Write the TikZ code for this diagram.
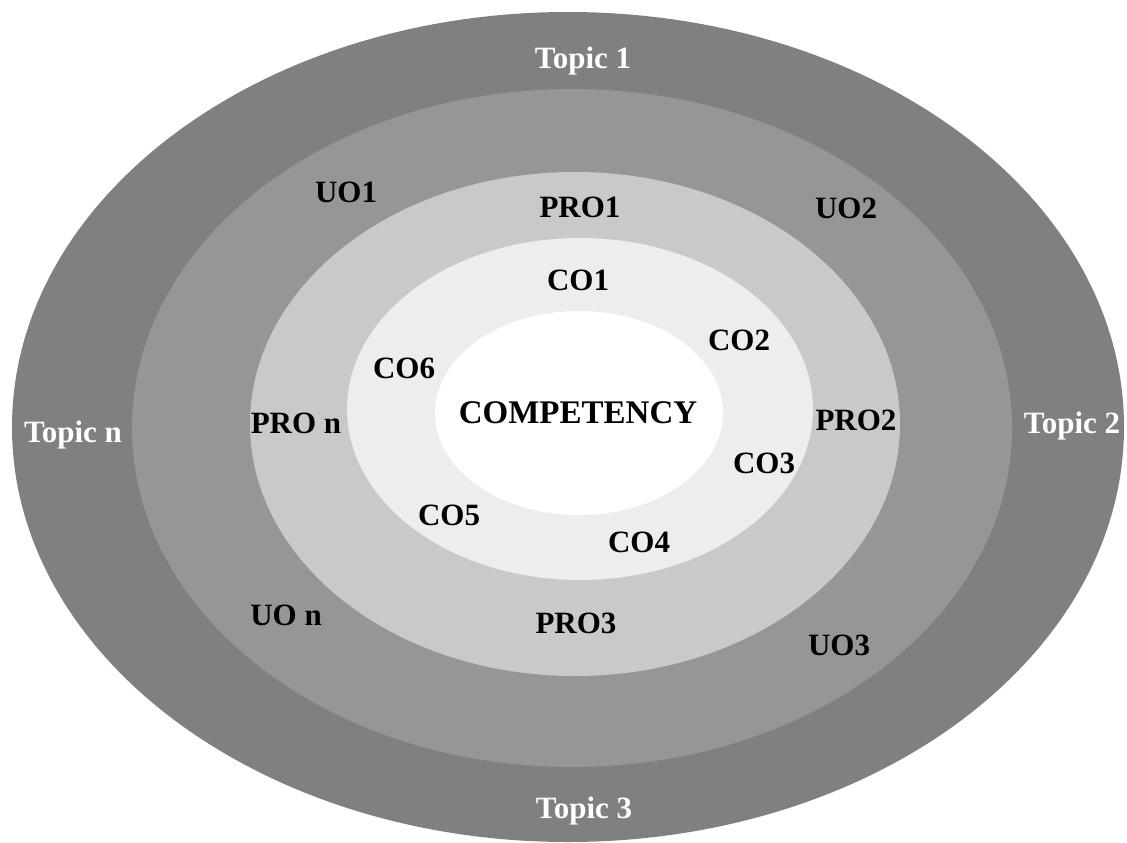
\documentclass[tikz,border=0pt]{standalone}
\usepackage{fontspec}
\setmainfont{Liberation Serif}
\begin{document}
\begin{tikzpicture}[x=1pt,y=-1pt,
  lbl/.style={anchor=base,inner sep=0pt,font=\bfseries\fontsize{31}{37}\selectfont,text=black},
  topic/.style={lbl,text=white},
  core/.style={lbl,font=\bfseries\fontsize{33}{39}\selectfont}]
\useasboundingbox (0,0) rectangle (1127,843);
\fill[white] (0,0) rectangle (1127,843);
\fill[fill=black!50] (568,427) ellipse [x radius=556, y radius=415];
\fill[fill=black!41] (572,428) ellipse [x radius=440, y radius=339];
\fill[fill=black!21] (575,424) ellipse [x radius=325, y radius=252];
\fill[fill=black!7] (580,409) ellipse [x radius=233, y radius=171];
\fill[fill=white] (579,413) ellipse [x radius=144, y radius=102];
% topics
\node[topic] (t1) at (583,68) {Topic 1};
\node[topic] (t2) at (1072,433) {Topic 2};
\node[topic] (t3) at (584,818) {Topic 3};
\node[topic] (tn) at (73,442) {Topic n};
% UO
\node[lbl] (uo1) at (346,202) {UO1};
\node[lbl] (uo2) at (846,218) {UO2};
\node[lbl] (uo3) at (839,655) {UO3};
\node[lbl] (uon) at (286,625) {UO n};
% PRO
\node[lbl] (pro1) at (580,217) {PRO1};
\node[lbl] (pro2) at (856,430) {PRO2};
\node[lbl] (pro3) at (576,633) {PRO3};
\node[lbl] (pron) at (296,433) {PRO n};
% CO
\node[lbl] (co1) at (578,290) {CO1};
\node[lbl] (co2) at (739,350) {CO2};
\node[lbl] (co3) at (764,473) {CO3};
\node[lbl] (co4) at (639,552) {CO4};
\node[lbl] (co5) at (449,525) {CO5};
\node[lbl] (co6) at (404,378) {CO6};
% core
\node[core] (comp) at (578,423) {COMPETENCY};
\end{tikzpicture}
\end{document}
